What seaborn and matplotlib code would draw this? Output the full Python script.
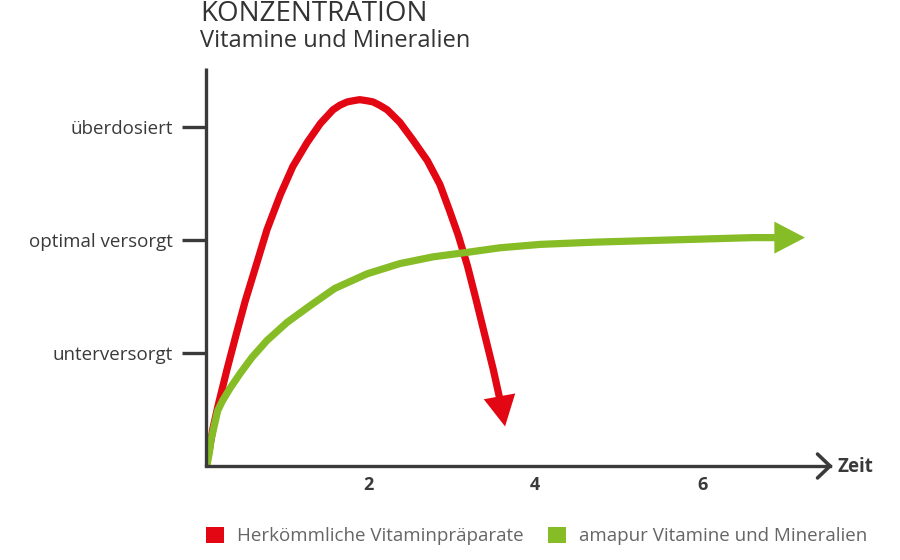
import matplotlib
matplotlib.use("Agg")
import matplotlib.pyplot as plt
import matplotlib.patches as mpatches
import seaborn as sns
import pandas as pd

# ---- data ----
red_x = [0.06, 0.10, 0.14, 0.20, 0.31, 0.42, 0.53, 0.65, 0.79, 0.95, 1.10, 1.27,
         1.43, 1.58, 1.66, 1.75, 1.82, 1.90, 1.99, 2.06, 2.14, 2.23, 2.38, 2.54,
         2.71, 2.86, 2.97, 3.08, 3.19, 3.29, 3.40, 3.50, 3.59, 3.64]
red_y = [0.00, 0.14, 0.32, 0.52, 0.85, 1.16, 1.46, 1.75, 2.09, 2.40, 2.65, 2.86,
         3.03, 3.15, 3.19, 3.22, 3.23, 3.24, 3.23, 3.22, 3.19, 3.15, 3.04, 2.88,
         2.70, 2.49, 2.27, 2.04, 1.77, 1.48, 1.15, 0.85, 0.55, 0.35]
green_x = [0.07, 0.10, 0.12, 0.16, 0.20, 0.26, 0.35, 0.47, 0.61, 0.79, 1.03, 1.31,
           1.60, 1.99, 2.38, 2.78, 3.19, 3.58, 4.06, 4.72, 5.66, 6.61, 6.87, 7.23]
green_y = [0.00, 0.12, 0.23, 0.36, 0.49, 0.58, 0.69, 0.82, 0.96, 1.11, 1.27, 1.42,
           1.57, 1.70, 1.79, 1.85, 1.89, 1.93, 1.96, 1.98, 2.00, 2.02, 2.02, 2.02]

y_ticks = [1, 2, 3]
y_labels = ["unterversorgt", "optimal versorgt", "überdosiert"]
x_ticks = [2, 4, 6]
x_labels = ["2", "4", "6"]
series_names = ["Herkömmliche Vitaminpräparate", "amapur Vitamine und Mineralien"]
title1 = "KONZENTRATION"
title2 = "Vitamine und Mineralien"
x_name = "Zeit"

RED = "#e30613"
GREEN = "#86bc25"
DARK = "#3a3a3a"
TXT = "#3a3a3a"

sns.set_theme(style="white")
plt.rcParams["font.family"] = ["Open Sans", "DejaVu Sans"]

fig = plt.figure(figsize=(9, 5.6), dpi=100)
fig.patch.set_facecolor("white")
ax = fig.add_axes([206 / 900, 1 - 466 / 560, (830 - 206) / 900, (466 - 68) / 560])
ax.set_facecolor("none")
ax.set_xlim(0.06, 7.53)
ax.set_ylim(0, 3.52)

df_r = pd.DataFrame({"x": red_x[:-1], "y": red_y[:-1]})
df_g = pd.DataFrame({"x": green_x[:-1], "y": green_y[:-1]})
sns.lineplot(data=df_r, x="x", y="y", sort=False, estimator=None, color=RED,
             lw=5.2, ax=ax, solid_capstyle="butt", solid_joinstyle="round")
sns.lineplot(data=df_g, x="x", y="y", sort=False, estimator=None, color=GREEN,
             lw=5.2, ax=ax, solid_capstyle="butt", solid_joinstyle="round")

for xs, ys, c in [(red_x, red_y, RED), (green_x, green_y, GREEN)]:
    ax.annotate("", xy=(xs[-1], ys[-1]), xytext=(xs[-2], ys[-2]),
                arrowprops=dict(arrowstyle="-|>,head_length=22,head_width=11.5",
                                mutation_scale=1, color=c, lw=0.01,
                                shrinkA=0, shrinkB=0),
                annotation_clip=False)

# spines
for s in ["top", "right"]:
    ax.spines[s].set_visible(False)
for s in ["left", "bottom"]:
    ax.spines[s].set_color(DARK)
    ax.spines[s].set_linewidth(2.4)
ax.spines["left"].set_capstyle("butt")

# x-axis chevron
ax.plot([0.98, 1.0, 0.98], [0.03, 0.0, -0.03], transform=ax.transAxes,
        color=DARK, lw=2.6, clip_on=False, solid_joinstyle="miter")

ax.set_yticks(y_ticks)
ax.set_yticklabels(y_labels, fontsize=13.5, color=TXT)
ax.tick_params(axis="y", length=17, width=2.4, color=DARK, pad=7, left=True)
ax.set_xticks(x_ticks)
ax.set_xticklabels(x_labels, fontsize=13, color=TXT, fontweight="bold")
ax.tick_params(axis="x", length=0, pad=7)
ax.set_xlabel("")
ax.set_ylabel("")

fig.text(838 / 900, 1 - 467 / 560, x_name, fontsize=13.5, fontweight="bold",
         color=DARK, va="center", ha="left")

fig.text(200 / 900, 1.0, title1, fontsize=20, fontweight="normal",
         color="#333333", va="top", ha="left")
fig.text(200 / 900, 1 - 41 / 560, title2, fontsize=17, color="#333333",
         va="center", ha="left")

handles = [mpatches.Patch(facecolor=RED, edgecolor="none"),
           mpatches.Patch(facecolor=GREEN, edgecolor="none")]
leg = fig.legend(handles, series_names, loc="center left",
                 bbox_to_anchor=(189 / 900, 1 - 536 / 560), ncol=2, frameon=False,
                 handlelength=0.95, handleheight=0.95, handletextpad=0.7,
                 columnspacing=1.3, fontsize=13.5)
for t in leg.get_texts():
    t.set_color("#666666")

fig.savefig("out.png", dpi=100, facecolor="white")
